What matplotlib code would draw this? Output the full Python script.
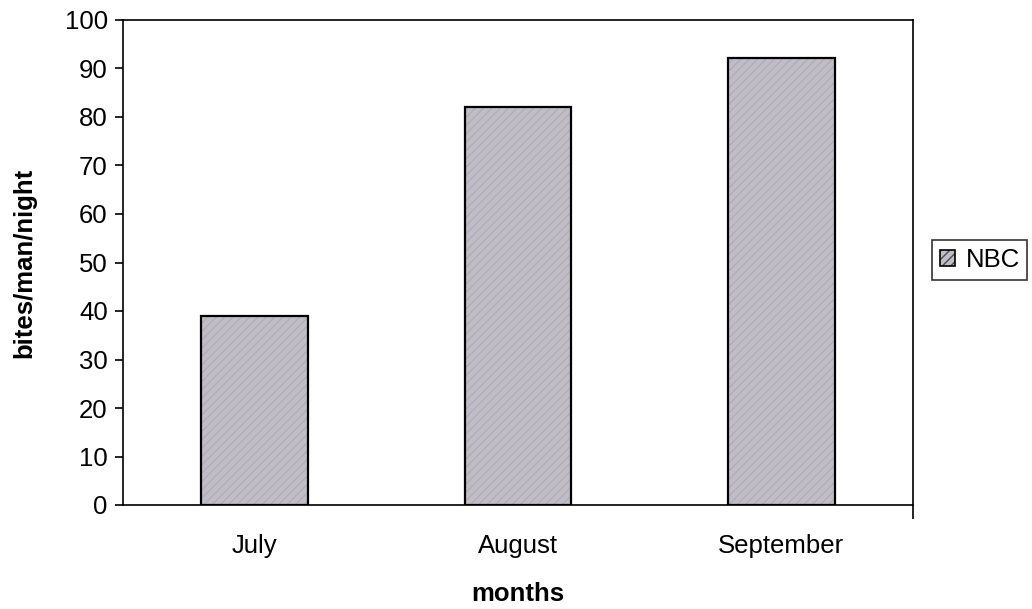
import matplotlib.pyplot as plt

plt.rcParams['font.family'] = ['Liberation Sans', 'DejaVu Sans']

months = ['July', 'August', 'September']
bites = [39.0, 82.0, 92.2]

fig = plt.figure(figsize=(10.32, 6.09), dpi=100)
ax = fig.add_axes([123 / 1032, 1 - 505 / 609, 790 / 1032, 485 / 609])

x = range(len(months))
bars = ax.bar(x, bites, width=0.405, color='#c0bec5', edgecolor='black',
              linewidth=1.6, hatch='////', label='NBC')
for b in bars:
    b._hatch_color = (0.70, 0.68, 0.73, 1.0)

ax.set_xlim(-0.5, 2.5)
ax.set_ylim(0, 100)
ax.set_yticks(range(0, 101, 10))
ax.set_xticks(list(x))
ax.set_xticklabels(months)
ax.set_xticks([2.5], minor=True)
ax.tick_params(axis='x', which='major', length=0, pad=21, labelsize=18.5)
ax.tick_params(axis='x', which='minor', length=10, width=1.2, direction='out')
ax.tick_params(axis='y', length=6, width=1.2, direction='out', labelsize=18.5, pad=5)

for s in ax.spines.values():
    s.set_linewidth(1.2)

ax.set_xlabel('months', fontsize=18.5, fontweight='bold', labelpad=17)
ax.set_ylabel('bites/man/night', fontsize=18.5, fontweight='bold', labelpad=20)

leg = fig.legend(loc='center left', bbox_to_anchor=(932 / 1032, 1 - 260 / 609),
                 frameon=True, fancybox=False, edgecolor='black', fontsize=18.5,
                 handlelength=0.6, handleheight=0.6, handletextpad=0.4,
                 borderpad=0.3, borderaxespad=0)
leg.get_frame().set_linewidth(1.2)
leg.get_patches()[0]._hatch_color = (0.3, 0.3, 0.3, 1.0)
leg.get_patches()[0].set_linewidth(1.2)

fig.savefig('out.png', dpi=100)
